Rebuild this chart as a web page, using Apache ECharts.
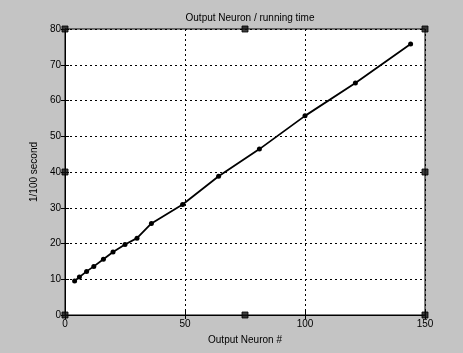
<!DOCTYPE html>
<html>
<head>
<meta charset="utf-8">
<script src="https://cdn.jsdelivr.net/npm/echarts@6/dist/echarts.min.js"></script>
<style>
  html, body { margin: 0; padding: 0; background: #c4c4c4; }
  #chart { width: 463px; height: 353px; }
</style>
</head>
<body>
<div id="chart"></div>
<script>
// Output neuron count (grid sizes 2x2 ... 12x12) and measured running time
const neurons = [4, 6, 9, 12, 16, 20, 25, 30, 36, 49, 64, 81, 100, 121, 144];
const runTime = [9.5, 10.6, 12.2, 13.6, 15.6, 17.6, 19.7, 21.5, 25.6, 30.9, 38.8, 46.4, 55.7, 64.9, 75.8];

// Selection handles on the axes box (edit-mode markers)
const handleX = [0, 75, 150, 0, 150, 0, 75, 150];
const handleY = [80, 80, 80, 40, 40, 0, 0, 0];

const xTicks = [0, 50, 100, 150];
const yTicks = [0, 10, 20, 30, 40, 50, 60, 70, 80];

const font = 'Liberation Sans, Arial, sans-serif';

const chart = echarts.init(document.getElementById('chart'), null, { renderer: 'canvas' });

const gridLine = { show: true, lineStyle: { color: '#000', type: [2, 3], width: 1 } };

chart.setOption({
  backgroundColor: '#c4c4c4',
  animation: false,
  title: {
    text: 'Output Neuron / running time',
    left: 245, top: 8, textAlign: 'center',
    textStyle: { fontFamily: font, fontSize: 10, fontWeight: 'normal', color: '#000' }
  },
  grid: {
    left: 65, right: 38, top: 29, bottom: 38,
    show: true, backgroundColor: '#fff', borderColor: '#000', borderWidth: 1
  },
  xAxis: [{
    type: 'value', min: xTicks[0], max: xTicks[xTicks.length - 1], interval: 50,
    name: 'Output Neuron #', nameLocation: 'middle', nameGap: 20,
    nameTextStyle: { fontFamily: font, fontSize: 10, color: '#000' },
    axisLine: { show: true, lineStyle: { color: '#000' } },
    axisTick: { show: true, inside: true, length: 4, lineStyle: { color: '#000' } },
    axisLabel: { fontFamily: font, fontSize: 10, color: '#000', margin: 4 },
    splitLine: gridLine
  }, {
    type: 'value', position: 'top', min: 0, max: 150, interval: 50,
    axisLine: { show: true, lineStyle: { color: '#000' } },
    axisTick: { show: true, inside: true, length: 4, lineStyle: { color: '#000' } },
    axisLabel: { show: false }, splitLine: { show: false }
  }],
  yAxis: [{
    type: 'value', min: yTicks[0], max: yTicks[yTicks.length - 1], interval: 10,
    name: '1/100 second', nameLocation: 'middle', nameGap: 22, nameRotate: 90,
    nameTextStyle: { fontFamily: font, fontSize: 10, color: '#000' },
    axisLine: { show: true, lineStyle: { color: '#000' } },
    axisTick: { show: true, inside: true, length: 4, lineStyle: { color: '#000' } },
    axisLabel: { fontFamily: font, fontSize: 10, color: '#000', margin: 4 },
    splitLine: gridLine
  }, {
    type: 'value', position: 'right', min: 0, max: 80, interval: 10,
    axisLine: { show: true, lineStyle: { color: '#000' } },
    axisTick: { show: true, inside: true, length: 4, lineStyle: { color: '#000' } },
    axisLabel: { show: false }, splitLine: { show: false }
  }],
  series: [{
    type: 'line',
    data: neurons.map((n, i) => [n, runTime[i]]),
    symbol: 'circle', symbolSize: 5,
    lineStyle: { color: '#000', width: 1.8 },
    itemStyle: { color: '#000' },
    z: 3
  }, {
    type: 'scatter',
    data: handleX.map((x, i) => [x, handleY[i]]),
    symbol: 'rect', symbolSize: 6,
    itemStyle: { color: '#111', borderColor: '#000', borderWidth: 1 },
    clip: false,
    z: 5
  }]
});
</script>
</body>
</html>
